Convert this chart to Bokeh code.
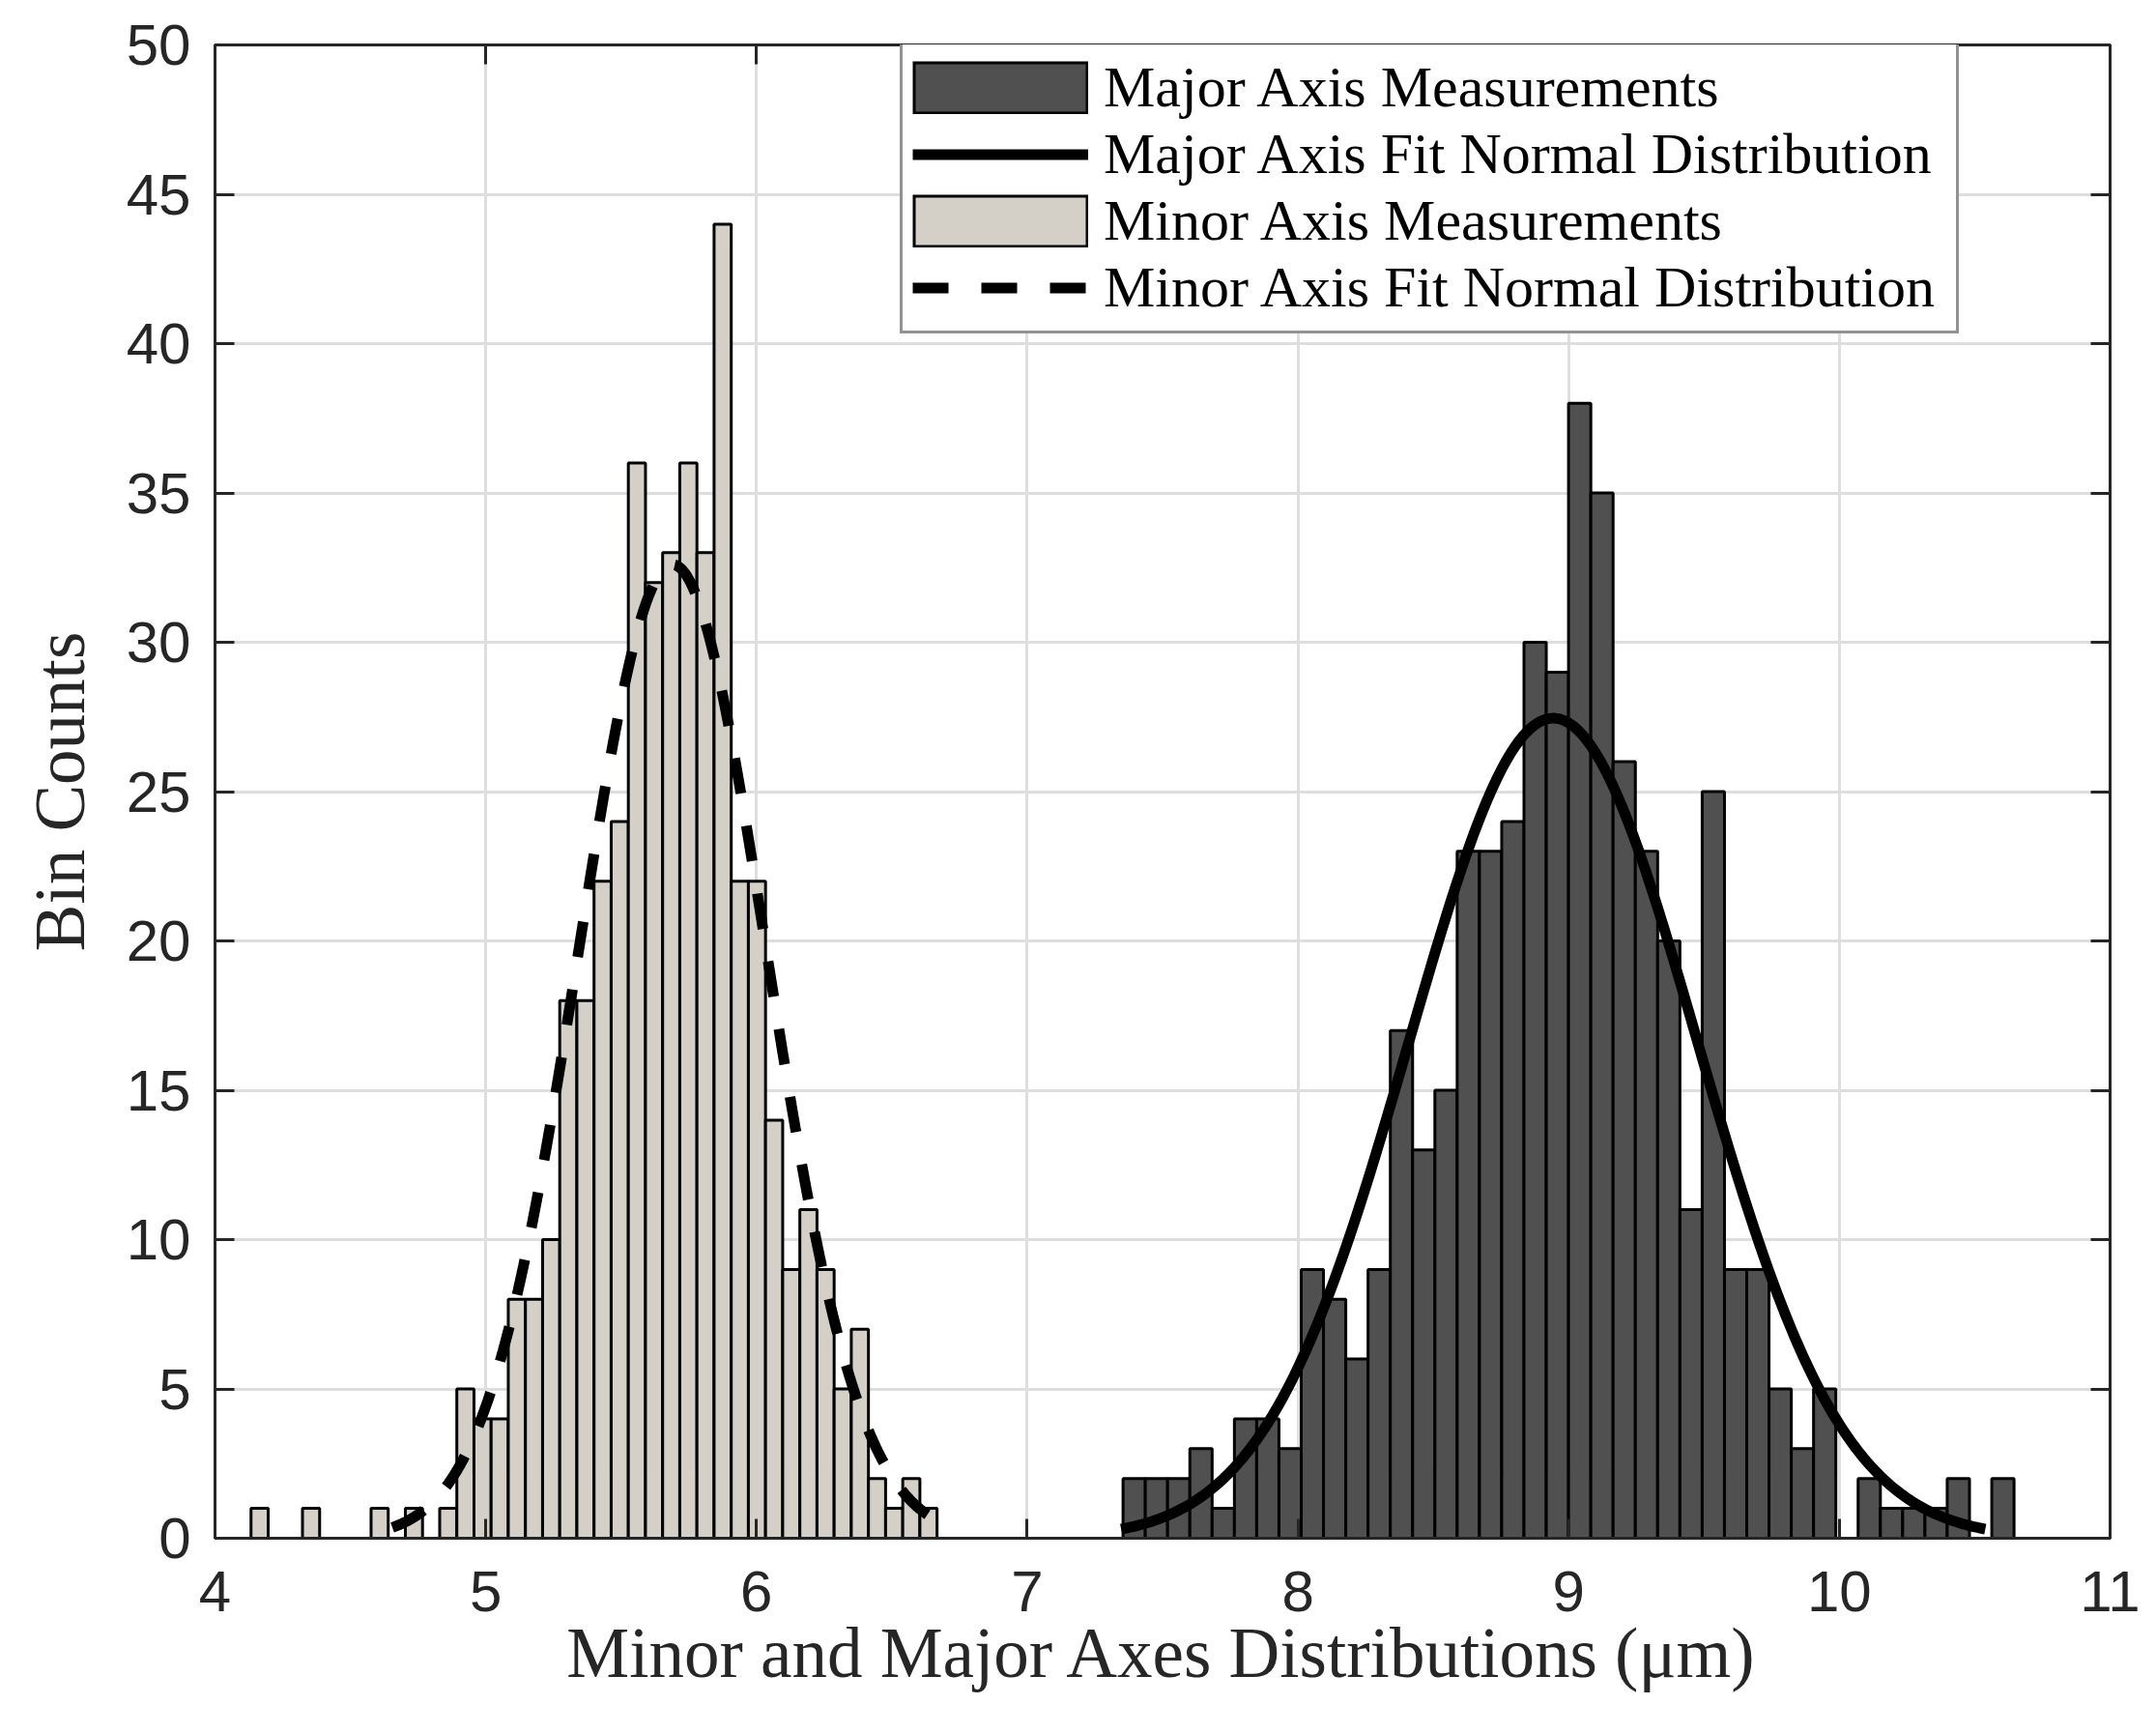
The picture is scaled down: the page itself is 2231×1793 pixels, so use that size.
import numpy as np
from bokeh.plotting import figure
from bokeh.models import (ColumnDataSource, LinearAxis, Legend, LegendItem, FixedTicker,
                          CustomJSTickFormatter, Range1d)
from bokeh.embed import file_html
from bokeh.resources import INLINE

# ---------------- data ----------------
minor_first_edge = 4.133
minor_bin_width = 0.06335
minor_counts = [1, 0, 0, 1, 0, 0, 0, 1, 0, 1, 0, 1, 5, 4, 4, 8, 8, 10, 18, 18,
                22, 24, 36, 32, 33, 36, 33, 44, 22, 22, 14, 9, 11, 9, 5, 7, 2, 1, 2, 1]

major_first_edge = 7.354
major_bin_width = 0.08228
major_counts = [2, 2, 2, 3, 1, 4, 4, 3, 9, 8, 6, 9, 17, 13, 15, 23, 23, 24, 30, 29,
                38, 35, 26, 23, 20, 11, 25, 9, 9, 5, 3, 5, 0, 2, 1, 1, 1, 2, 0, 2]

# fitted normal distribution parameters (mean, std) in micrometres
minor_fit_mu = 5.690
minor_fit_sigma = 0.345
major_fit_mu = 8.943
major_fit_sigma = 0.532

x_ticks = [4, 5, 6, 7, 8, 9, 10, 11]
y_ticks = [0, 5, 10, 15, 20, 25, 30, 35, 40, 45, 50]

legend_labels = ["Major Axis Measurements", "Major Axis Fit Normal Distribution",
                 "Minor Axis Measurements", "Minor Axis Fit Normal Distribution"]
x_title = "Minor and Major Axes Distributions (\u03bcm)"
y_title = "Bin Counts"

MAJOR_FILL = "#505050"
MINOR_FILL = "#d4d0c8"
AX = "#262626"


def hist_source(first_edge, width, counts):
    n = len(counts)
    left = first_edge + width * np.arange(n)
    return ColumnDataSource(dict(left=left, right=left + width,
                                 top=np.array(counts, dtype=float), bottom=np.zeros(n)))


def fit_source(mu, sigma, counts, width):
    # scaled normal pdf of the fit, drawn over mu +/- 3 sigma
    x = np.linspace(mu - 3 * sigma, mu + 3 * sigma, 300)
    y = sum(counts) * width * np.exp(-0.5 * ((x - mu) / sigma) ** 2) / (sigma * np.sqrt(2 * np.pi))
    return ColumnDataSource(dict(x=x, y=y))


major_src = hist_source(major_first_edge, major_bin_width, major_counts)
minor_src = hist_source(minor_first_edge, minor_bin_width, minor_counts)
major_fit = fit_source(major_fit_mu, major_fit_sigma, major_counts, major_bin_width)
minor_fit = fit_source(minor_fit_mu, minor_fit_sigma, minor_counts, minor_bin_width)

p = figure(frame_width=1961, frame_height=1545,
           min_border_left=222, min_border_right=45, min_border_top=46, min_border_bottom=199,
           x_range=Range1d(4, 11), y_range=Range1d(0, 50),
           output_backend="svg", toolbar_location=None,
           background_fill_color="white", border_fill_color="white")

p.outline_line_color = AX
p.outline_line_width = 3

# grids
p.xgrid.ticker = FixedTicker(ticks=x_ticks)
p.ygrid.ticker = FixedTicker(ticks=y_ticks)
for g in (p.xgrid[0], p.ygrid[0]):
    g.grid_line_color = "#dedede"
    g.grid_line_width = 3

# main axes
p.xaxis.ticker = FixedTicker(ticks=x_ticks)
p.yaxis.ticker = FixedTicker(ticks=y_ticks)


def style_axis(ax):
    ax.axis_line_color = AX
    ax.axis_line_width = 3
    ax.major_tick_in = 20
    ax.major_tick_out = 0
    ax.major_tick_line_color = AX
    ax.major_tick_line_width = 3
    ax.minor_tick_line_color = None
    ax.major_label_text_font = "Liberation Sans"
    ax.major_label_text_font_size = "60px"
    ax.major_label_text_color = AX
    ax.axis_label_text_font = "Liberation Serif"
    ax.axis_label_text_font_size = "73px"
    ax.axis_label_text_font_style = "normal"
    ax.axis_label_text_color = AX


for ax in (p.xaxis[0], p.yaxis[0]):
    style_axis(ax)

p.xaxis.axis_label = x_title
p.yaxis.axis_label = y_title
p.xaxis.major_label_standoff = 34
p.xaxis.axis_label_standoff = 0
p.yaxis.major_label_standoff = 25
p.yaxis.axis_label_standoff = 25

# mirrored axes (box with inward ticks on all sides)
blank = CustomJSTickFormatter(code="return ''")
rax = LinearAxis(ticker=FixedTicker(ticks=y_ticks), formatter=blank)
tax = LinearAxis(ticker=FixedTicker(ticks=x_ticks), formatter=blank)
for ax in (rax, tax):
    style_axis(ax)
    ax.major_label_text_font_size = "10px"
p.add_layout(rax, "right")
p.add_layout(tax, "above")

# glyphs
r_major = p.quad(left="left", right="right", top="top", bottom="bottom", source=major_src,
                 fill_color=MAJOR_FILL, line_color="black", line_width=3)
r_major_fit = p.line("x", "y", source=major_fit, line_color="black", line_width=11,
                     line_join="round")
r_minor = p.quad(left="left", right="right", top="top", bottom="bottom", source=minor_src,
                 fill_color=MINOR_FILL, line_color="black", line_width=3)
r_minor_fit = p.line("x", "y", source=minor_fit, line_color="black", line_width=11,
                     line_dash="37 34", line_cap="butt")

# legend swatches: proxy lines with a single NaN point (nothing drawn in the plot),
# so the filled boxes span the full legend glyph width like the reference
proxy = ColumnDataSource(dict(x=[float("nan")], y=[float("nan")]))
GW = 182
sw_border = p.line("x", "y", source=proxy, line_color="black", line_width=55, line_cap="butt")
sw_major = p.line("x", "y", source=proxy, line_color=MAJOR_FILL, line_width=49, line_cap="butt",
                  line_dash="0 3 %d 1000" % (GW - 6))
sw_minor = p.line("x", "y", source=proxy, line_color=MINOR_FILL, line_width=49, line_cap="butt",
                  line_dash="0 3 %d 1000" % (GW - 6))

legend = Legend(items=[LegendItem(label=legend_labels[0], renderers=[sw_border, sw_major]),
                       LegendItem(label=legend_labels[1], renderers=[r_major_fit]),
                       LegendItem(label=legend_labels[2], renderers=[sw_border, sw_minor]),
                       LegendItem(label=legend_labels[3], renderers=[r_minor_fit])],
                location=(709, 1246), margin=0, padding=10, spacing=0,
                glyph_width=GW, glyph_height=55, label_standoff=16, label_width=872,
                label_height=55,
                label_text_font="Liberation Serif", label_text_font_size="60px",
                label_text_line_height=1.0,
                label_text_color="black",
                border_line_color=AX, border_line_width=3,
                background_fill_color="white", background_fill_alpha=1.0)
p.add_layout(legend)

open("out.html", "w").write(file_html(p, INLINE))
